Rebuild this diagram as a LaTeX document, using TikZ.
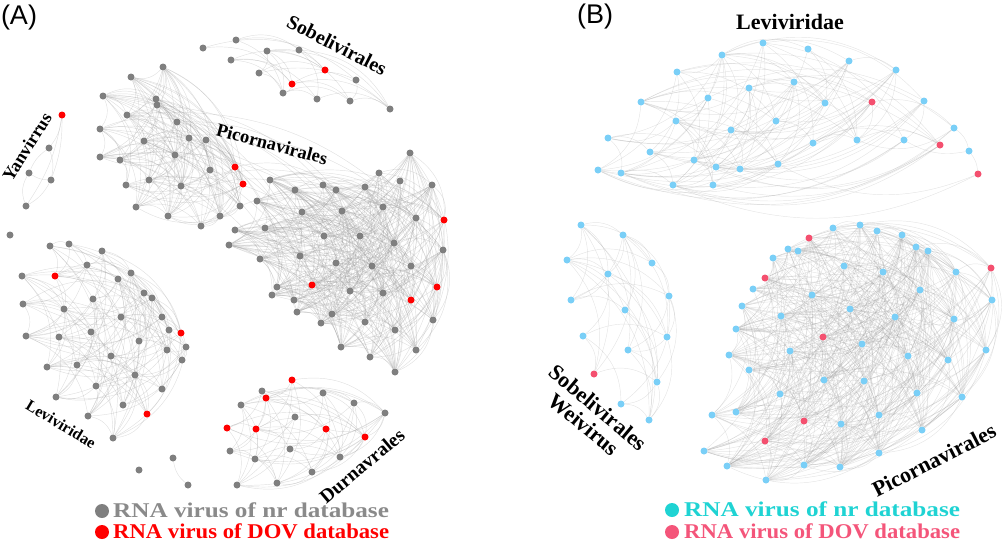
\documentclass[tikz,border=0pt]{standalone}
\usepackage{fontspec}
\usepackage{graphicx}
\setmainfont{Liberation Serif}
\newfontfamily\arialf{Liberation Sans}
\pgfdeclarelayer{edges}
\pgfsetlayers{edges,main}
\definecolor{colg}{HTML}{7F7F7F}
\definecolor{colr}{HTML}{FF0000}
\definecolor{colb}{HTML}{7ACFF7}
\definecolor{colp}{HTML}{F4506F}
\definecolor{legcyan}{HTML}{1FD3D3}
\definecolor{legpink}{HTML}{F4557A}
\definecolor{leggray}{HTML}{8A8A8A}
\definecolor{edgegray}{HTML}{9A9A9A}
\tikzset{
  nd/.style={circle, fill=col#1, draw=none, inner sep=0pt, minimum size=7pt},
  edgeA/.style={draw=edgegray, line width=0.45pt, opacity=0.3},
  edgeB/.style={draw=edgegray, line width=0.45pt, opacity=0.26},
  grouplabel/.style={font=\bfseries\fontsize{#1}{#1}\selectfont, inner sep=0pt, text=black},
  panellabel/.style={font=\arialf\fontsize{27}{27}\selectfont, inner sep=0pt},
  legdot/.style={circle, fill=#1, inner sep=0pt, minimum size=14pt},
  legtext/.style={font=\bfseries\fontsize{21}{21}\selectfont, text=#1, inner sep=0pt, anchor=base west}
}
\newcommand\clusteredges[5]{%
  \foreach \i in {1,...,#2}{%
    \foreach \j in {1,...,#2}{%
      \ifnum\j>\i\relax
        \pgfmathrandominteger{\rr}{1}{100}%
        \ifnum\rr<#3\relax
          \draw[#4] (#1\i) to[bend left=#5] (#1\j);
        \fi
      \fi}}}
\newcommand\crossedges[6]{%
  \foreach \i in {1,...,#2}{%
    \foreach \j in {1,...,#4}{%
        \pgfmathrandominteger{\rr}{1}{100}%
        \ifnum\rr<#5\relax
          \draw[#6] (#1\i) to[bend left=25] (#3\j);
        \fi}}}
\begin{document}
\begin{tikzpicture}[x=1pt, y=-1pt]
\useasboundingbox (0,0) rectangle (1003,542);
\pgfmathsetseed{4242}
% ---------------- Panel A ----------------
\foreach \x/\y/\c [count=\k] in {203/48/g, 236/40/g, 267/51/g, 299/50/g, 231/60/g, 259/73/g, 325/70/r, 292/84/r, 283/93/g, 356/80/g, 317/99/g, 350/101/g, 390/109/g}
  \node[nd=\c] (as\k) at (\x,\y) {};
\foreach \x/\y/\c [count=\k] in {62/115/r, 49/148/g, 29/173/g, 51/180/g, 26/206/g}
  \node[nd=\c] (ay\k) at (\x,\y) {};
\node[nd=g] (az1) at (10,235) {};
\foreach \x/\y/\c [count=\k] in {163/67/g, 131/77/g, 103/96/g, 156/99/g, 157/105/g, 127/115/g, 177/122/g, 100/129/g, 144/141/g, 189/138/g, 206/140/g, 100/157/g, 120/160/g, 175/155/g, 235/167/r, 210/170/g, 243/184/r, 149/180/g, 126/185/g, 181/186/g, 240/206/g, 136/207/g, 220/216/g, 168/216/g, 201/226/g}
  \node[nd=\c] (ap\k) at (\x,\y) {};
\foreach \x/\y/\c [count=\k] in {410/153/g, 379/173/g, 400/181/g, 432/185/g, 270/180/g, 295/190/g, 323/185/g, 336/190/g, 365/187/g, 257/201/g, 302/212/g, 342/211/g, 383/207/g, 416/218/g, 444/220/r, 235/230/g, 265/228/g, 229/245/g, 324/236/g, 360/236/g, 394/243/g, 443/250/g, 260/259/g, 300/256/g, 336/263/g, 372/266/g, 411/266/g, 277/287/g, 312/285/r, 272/295/g, 350/291/g, 383/293/g, 437/287/r, 411/300/r, 294/300/g, 297/312/g, 332/314/g, 321/323/g, 365/322/g, 395/330/g, 433/320/g, 341/347/g, 370/357/g, 416/350/g, 395/372/g}
  \node[nd=\c] (aq\k) at (\x,\y) {};
\foreach \x/\y/\c [count=\k] in {50/246/g, 69/244/g, 102/251/g, 87/265/g, 22/276/g, 55/276/r, 118/279/g, 131/273/g, 23/304/g, 144/293/g, 152/298/g, 93/299/g, 64/309/g, 121/317/g, 162/317/g, 91/332/g, 169/330/g, 181/333/r, 26/336/g, 59/337/g, 139/341/g, 186/347/g, 167/350/g, 111/356/g, 182/360/g, 47/367/g, 77/365/g, 135/375/g, 96/386/g, 162/389/g, 56/397/g, 123/405/g, 88/416/g, 147/414/r, 113/438/g}
  \node[nd=\c] (al\k) at (\x,\y) {};
\foreach \x/\y/\c [count=\k] in {173/458/g, 139/470/g, 188/485/g}
  \node[nd=\c] (ai\k) at (\x,\y) {};
\foreach \x/\y/\c [count=\k] in {292/380/r, 262/391/g, 323/393/g, 266/398/r, 241/405/g, 354/403/g, 295/417/g, 385/413/g, 227/428/r, 256/429/r, 326/429/r, 365/437/r, 230/451/g, 290/449/g, 255/459/g, 340/457/g, 312/472/g, 277/483/g, 237/485/g}
  \node[nd=\c] (ad\k) at (\x,\y) {};
% ---------------- Panel B ----------------
\foreach \x/\y/\c [count=\k] in {763/43/b, 722/55/b, 808/49/b, 849/61/b, 896/70/b, 677/72/b, 749/88/b, 794/82/b, 708/98/b, 641/102/b, 825/103/b, 872/102/p, 924/101/b, 676/121/b, 776/121/b, 731/130/b, 954/128/b, 608/138/b, 813/143/b, 857/140/b, 904/140/b, 940/145/p, 650/152/b, 694/160/b, 716/167/b, 740/169/b, 778/164/b, 598/170/b, 621/173/b, 673/185/b, 713/185/b}
  \node[nd=\c] (bl\k) at (\x,\y) {};
\node[nd=b] (bx1) at (969,151) {};
\node[nd=p] (bx2) at (978,174) {};
\foreach \x/\y/\c [count=\k] in {581/225/b, 623/235/b, 567/260/b, 652/263/b, 608/274/b, 571/300/b, 669/296/b, 625/310/b, 583/336/b, 667/337/b, 628/350/b, 594/374/p, 657/382/b, 621/404/b, 649/420/b}
  \node[nd=\c] (bs\k) at (\x,\y) {};
\foreach \x/\y/\c [count=\k] in {833/228/b, 860/225/b, 877/231/b, 902/235/b, 809/238/p, 788/249/b, 798/251/b, 916/247/b, 928/251/b, 773/258/b, 844/266/b, 883/272/b, 956/272/b, 991/268/p, 765/278/p, 753/289/b, 812/295/b, 920/290/b, 992/300/b, 742/306/b, 850/309/b, 781/316/b, 895/317/b, 954/319/b, 736/329/b, 823/337/p, 862/344/b, 729/355/b, 790/351/b, 908/356/b, 948/360/b, 986/350/b, 749/370/b, 824/380/b, 864/381/b, 780/394/b, 917/393/b, 962/397/b, 712/415/b, 736/412/b, 804/421/p, 879/415/b, 841/424/b, 922/430/b, 765/441/p, 704/451/b, 879/453/b, 727/466/b, 804/465/b, 840/467/b, 766/480/b}
  \node[nd=\c] (bp\k) at (\x,\y) {};
% ---------------- Edges ----------------
\begin{pgfonlayer}{edges}
  \clusteredges{as}{13}{30}{edgeA}{28}
  \draw[edgeA] (ay1) to[bend left=15] (ay2);
  \draw[edgeA] (ay1) to[bend left=10] (ay4);
  \draw[edgeA] (ay1) to[bend left=12] (ay5);
  \draw[edgeA] (ay2) to[bend right=15] (ay3);
  \draw[edgeA] (ay3) to[bend right=15] (ay4);
  \draw[edgeA] (ay4) to[bend left=15] (ay5);
  \draw[edgeA] (ay2) to[bend left=15] (ay4);
  \draw[edgeA] (ay3) to[bend right=25] (ay5);
  \clusteredges{ap}{25}{55}{edgeA}{30}
  \clusteredges{aq}{45}{40}{edgeA}{30}
  \crossedges{ap}{25}{aq}{45}{3}{edgeA}
  \clusteredges{al}{35}{30}{edgeA}{28}
  \draw[edgeA] (ai1) to[bend right=20] (ai3);
  \clusteredges{ad}{19}{40}{edgeA}{28}
  \clusteredges{bl}{31}{28}{edgeB}{28}
  \draw[edgeB] (bx1) to[bend left=15] (bx2);
  \draw[edgeB] (bl30) to[bend right=25] (bx2);
  \draw[edgeB] (bl27) to[bend right=25] (bx2);
  \draw[edgeB] (bl17) to[bend left=20] (bx1);
  \draw[edgeB] (bl21) to[bend right=20] (bx1);
  \clusteredges{bs}{15}{45}{edgeB}{28}
  \clusteredges{bp}{51}{40}{edgeB}{30}
\end{pgfonlayer}
% ---------------- Labels ----------------
\node[panellabel] (labA) at (19,18) {(A)};
\node[panellabel] (labB) at (595,17) {(B)};
\node[grouplabel=20, rotate=-27] (tSobA) at (337,45) {Sobelivirales};
\node[grouplabel=18.5, rotate=-15] (tPicA) at (272,144) {Picornavirales};
\node[grouplabel=18, rotate=58] (tYan) at (27,147) {Yanvirrus};
\node[grouplabel=16, rotate=-31] (tLevA) at (61,424) {Leviviridae};
\node[grouplabel=19.5, rotate=40] (tDur) at (362,466) {Durnavrales};
\node[grouplabel=22] (tLevB) at (790,22) {Leviviridae};
\node[grouplabel=22, rotate=-40, align=center] (tSobB) at (591,416) {Sobelivirales\\[0pt]Weivirus};
\node[grouplabel=22, rotate=27] (tPicB) at (934,460) {Picornavirales};
% ---------------- Legends ----------------
\node[legdot=colg] (dA1) at (102,511) {};
\node[legtext=leggray] (lA1) at (113,517) {\scalebox{1.2}[1]{RNA virus of nr database}};
\node[legdot=colr] (dA2) at (102,532) {};
\node[legtext=colr] (lA2) at (113,538) {\scalebox{1.08}[1]{RNA virus of DOV database}};
\node[legdot=legcyan] (dB1) at (672,510) {};
\node[legtext=legcyan] (lB1) at (684,516) {\scalebox{1.2}[1]{RNA virus of nr database}};
\node[legdot=legpink] (dB2) at (672,532) {};
\node[legtext=legpink] (lB2) at (684,538) {\scalebox{1.08}[1]{RNA virus of DOV database}};
\end{tikzpicture}
\end{document}
